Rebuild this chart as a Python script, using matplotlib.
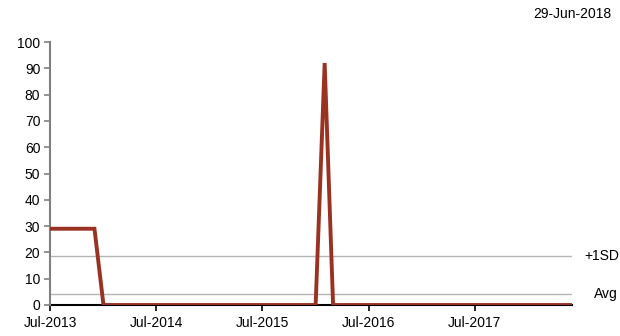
import matplotlib.pyplot as plt
import numpy as np
import pandas as pd

plt.rcParams["font.family"] = ["Liberation Sans", "DejaVu Sans"]

# monthly series, Jul-2013 .. Jun-2018
months = pd.date_range("2013-07-01", "2018-06-01", freq="MS")
values = [29, 29, 29, 29, 29, 29] + [0] * 25 + [92] + [0] * 28
avg_level = 4.3
sd_level = 18.8
tick_dates = pd.to_datetime(["2013-07-01", "2014-07-01", "2015-07-01",
                             "2016-07-01", "2017-07-01"])
tick_labels = ["Jul-2013", "Jul-2014", "Jul-2015", "Jul-2016", "Jul-2017"]
as_of = "29-Jun-2018"

RED = "#9a3222"
GRID = "#b4b4b4"
FS = 10

fig = plt.figure(figsize=(6.2, 3.36), dpi=100)
ax = fig.add_axes([50 / 620, 1 - 305 / 336, 522 / 620, 263 / 336])

ax.axhline(sd_level, color=GRID, lw=1.0, zorder=1)
ax.axhline(avg_level, color=GRID, lw=1.0, zorder=1)
ax.plot(months, values, color=RED, lw=2.8, solid_joinstyle="miter", zorder=3)

ax.set_ylim(0, 100)
ax.set_yticks(np.arange(0, 101, 10))
ax.set_xlim(months[0], months[-1])
ax.set_xticks(tick_dates)
ax.set_xticklabels(tick_labels)

for s in ["top", "right"]:
    ax.spines[s].set_visible(False)
ax.spines["left"].set_color("#808080")
ax.spines["left"].set_linewidth(1.5)
ax.spines["bottom"].set_color("black")
ax.spines["bottom"].set_linewidth(1.5)
ax.spines["bottom"].set_zorder(2)

ax.tick_params(axis="y", colors="#808080", labelcolor="black", length=4,
               width=1.2, labelsize=FS, pad=3)
ax.tick_params(axis="x", colors="black", length=4, width=1.2,
               labelsize=FS, pad=4)

ax.text(1.024, sd_level, "+1SD", transform=ax.get_yaxis_transform(),
        ha="left", va="center", fontsize=FS)
ax.text(1.043, avg_level, "Avg", transform=ax.get_yaxis_transform(),
        ha="left", va="center", fontsize=FS)
fig.text(572 / 620, 1 - 14 / 336, as_of, ha="center", va="center", fontsize=FS)

fig.savefig("out.png", dpi=100)
